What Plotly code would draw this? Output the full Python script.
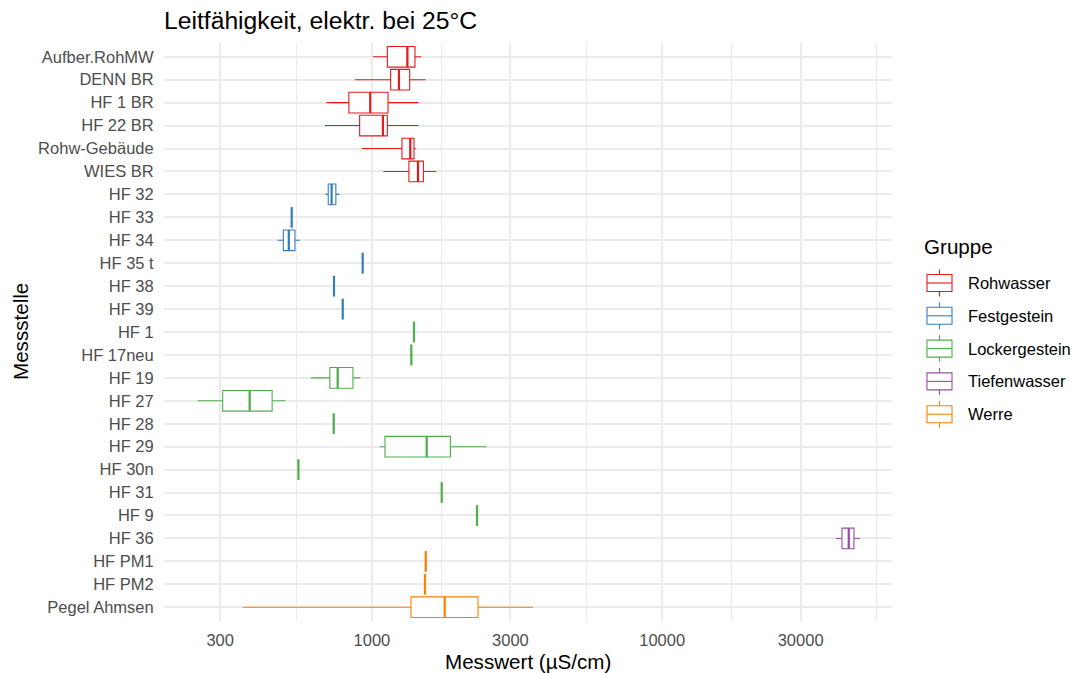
import plotly.graph_objects as go

# ---- data -------------------------------------------------------------
stations = ["Aufber.RohMW", "DENN BR", "HF 1 BR", "HF 22 BR", "Rohw-Gebäude", "WIES BR",
            "HF 32", "HF 33", "HF 34", "HF 35 t", "HF 38", "HF 39",
            "HF 1", "HF 17neu", "HF 19", "HF 27", "HF 28", "HF 29", "HF 30n", "HF 31", "HF 9",
            "HF 36",
            "HF PM1", "HF PM2", "Pegel Ahmsen"]
station_group = ["Rohwasser"] * 6 + ["Festgestein"] * 6 + ["Lockergestein"] * 9 + \
                ["Tiefenwasser"] + ["Werre"] * 3

lower = [1008, 874, 697, 689, 924, 1095,
         691, 529, 474, 929, 740, 793,
         1396, 1367, 615, 251, 738, 1063, 558, 1739, 2302,
         39700,
         1532, 1523, 359]
q1 = [1130, 1160, 833, 907, 1269, 1341,
      707, 529, 495, 929, 740, 793,
      1396, 1367, 716, 306, 738, 1109, 558, 1739, 2302,
      41660,
      1532, 1523, 1363]
median = [1325, 1239, 987, 1091, 1356, 1441,
          726, 529, 517, 929, 740, 793,
          1396, 1367, 762, 379, 738, 1544, 558, 1739, 2302,
          43940,
          1532, 1523, 1781]
q3 = [1407, 1349, 1136, 1130, 1396, 1504,
      751, 529, 543, 929, 740, 793,
      1396, 1367, 860, 453, 738, 1864, 558, 1739, 2302,
      45810,
      1532, 1523, 2320]
upper = [1476, 1532, 1446, 1446, 1415, 1663,
         772, 529, 565, 929, 740, 793,
         1396, 1367, 912, 504, 738, 2486, 558, 1739, 2302,
         47930,
         1532, 1523, 3592]

groups = ["Rohwasser", "Festgestein", "Lockergestein", "Tiefenwasser", "Werre"]
group_colors = ["#E41A1C", "#377EB8", "#4DAF4A", "#984EA3", "#FF7F00"]

x_tick_vals = [300, 1000, 3000, 10000, 30000]
x_minor_vals = [547.7, 1732, 5477, 17320, 54772]

# ---- layout geometry (pixels) ------------------------------------------
W, H = 1071, 673
ML, MR, MT, MB = 164, 179, 43, 52
PW, PH = W - ML - MR, H - MT - MB


def px_x(px):
    return (px - ML) / PW


def px_y(py):
    return (H - MB - py) / PH


FONT = "Liberation Sans, Arial, sans-serif"
fig = go.Figure()

for g, col in zip(groups, group_colors):
    idx = [i for i, s in enumerate(station_group) if s == g]
    ys = [stations[i] for i in idx]
    fig.add_trace(go.Box(
        y=ys,
        q1=[q1[i] for i in idx],
        median=[median[i] for i in idx],
        q3=[q3[i] for i in idx],
        lowerfence=[lower[i] for i in idx],
        upperfence=[upper[i] for i in idx],
        orientation="h",
        name=g,
        line=dict(color=col, width=1.1),
        fillcolor="white",
        width=0.9,
        whiskerwidth=0,
        boxpoints=False,
        hoverinfo="skip",
        showlegend=False,
    ))
    # thicker median line (ggplot "fatten")
    fig.add_trace(go.Scatter(
        x=[median[i] for i in idx],
        y=ys,
        mode="markers",
        marker=dict(symbol="line-ns", size=14.7, color=col,
                    line=dict(color=col, width=2.2)),
        showlegend=False,
        hoverinfo="skip",
    ))

fig.update_layout(
    width=W, height=H,
    margin=dict(l=ML, r=MR, t=MT, b=MB),
    paper_bgcolor="white",
    plot_bgcolor="white",
    boxmode="overlay",
    showlegend=False,
    font=dict(family=FONT, size=16.5, color="#4D4D4D"),
    title=dict(text="Leitfähigkeit, elektr. bei 25°C",
               font=dict(family=FONT, size=24.7, color="black"),
               x=ML / W, xanchor="left", xref="container",
               y=1 - 20 / H, yanchor="middle", yref="container"),
)

fig.update_xaxes(
    type="log",
    range=[2.2835, 4.792],
    tickvals=x_tick_vals,
    ticktext=[str(v) for v in x_tick_vals],
    tickfont=dict(family=FONT, size=16.5, color="#4D4D4D"),
    showgrid=True, gridcolor="#EBEBEB", gridwidth=2,
    minor=dict(tickvals=x_minor_vals, showgrid=True, gridcolor="#EBEBEB", gridwidth=1.1),
    ticks="outside", ticklen=4, tickcolor="rgba(0,0,0,0)",
    zeroline=False, showline=False,
)
fig.update_yaxes(
    type="category",
    categoryorder="array", categoryarray=stations,
    range=[24.6, -0.6],
    tickfont=dict(family=FONT, size=16.5, color="#4D4D4D"),
    showgrid=True, gridcolor="#EBEBEB", gridwidth=1.8,
    ticks="outside", ticklen=6, tickcolor="rgba(0,0,0,0)",
    zeroline=False, showline=False,
)

# axis titles
fig.add_annotation(text="Messwert (µS/cm)", xref="paper", yref="paper",
                   x=0.5, y=px_y(661), xanchor="center", yanchor="middle",
                   showarrow=False, font=dict(family=FONT, size=20.6, color="black"))
fig.add_annotation(text="Messstelle", xref="paper", yref="paper",
                   x=px_x(20), y=0.5, xanchor="center", yanchor="middle", textangle=-90,
                   showarrow=False, font=dict(family=FONT, size=20.6, color="black"))

# legend (ggplot-style boxplot keys)
fig.add_annotation(text="Gruppe", xref="paper", yref="paper",
                   x=px_x(922), y=px_y(247), xanchor="left", yanchor="middle",
                   showarrow=False, font=dict(family=FONT, size=20.6, color="black"))
key_x0, key_x1 = 927, 952
key_xm = (key_x0 + key_x1) / 2
for k, (g, col) in enumerate(zip(groups, group_colors)):
    cy = 283 + k * 32.8
    fig.add_shape(type="rect", xref="paper", yref="paper",
                  x0=px_x(key_x0), x1=px_x(key_x1), y0=px_y(cy - 8.5), y1=px_y(cy + 8.5),
                  line=dict(color=col, width=1.1), fillcolor="white")
    fig.add_shape(type="line", xref="paper", yref="paper",
                  x0=px_x(key_x0), x1=px_x(key_x1), y0=px_y(cy), y1=px_y(cy),
                  line=dict(color=col, width=1.1))
    fig.add_shape(type="line", xref="paper", yref="paper",
                  x0=px_x(key_xm), x1=px_x(key_xm), y0=px_y(cy - 13.5), y1=px_y(cy - 8.5),
                  line=dict(color=col, width=1.1))
    fig.add_shape(type="line", xref="paper", yref="paper",
                  x0=px_x(key_xm), x1=px_x(key_xm), y0=px_y(cy + 8.5), y1=px_y(cy + 13.5),
                  line=dict(color=col, width=1.1))
    fig.add_annotation(text=g, xref="paper", yref="paper",
                       x=px_x(966), y=px_y(cy), xanchor="left", yanchor="middle",
                       showarrow=False, font=dict(family=FONT, size=16.5, color="black"))

fig.write_html("out.html")
